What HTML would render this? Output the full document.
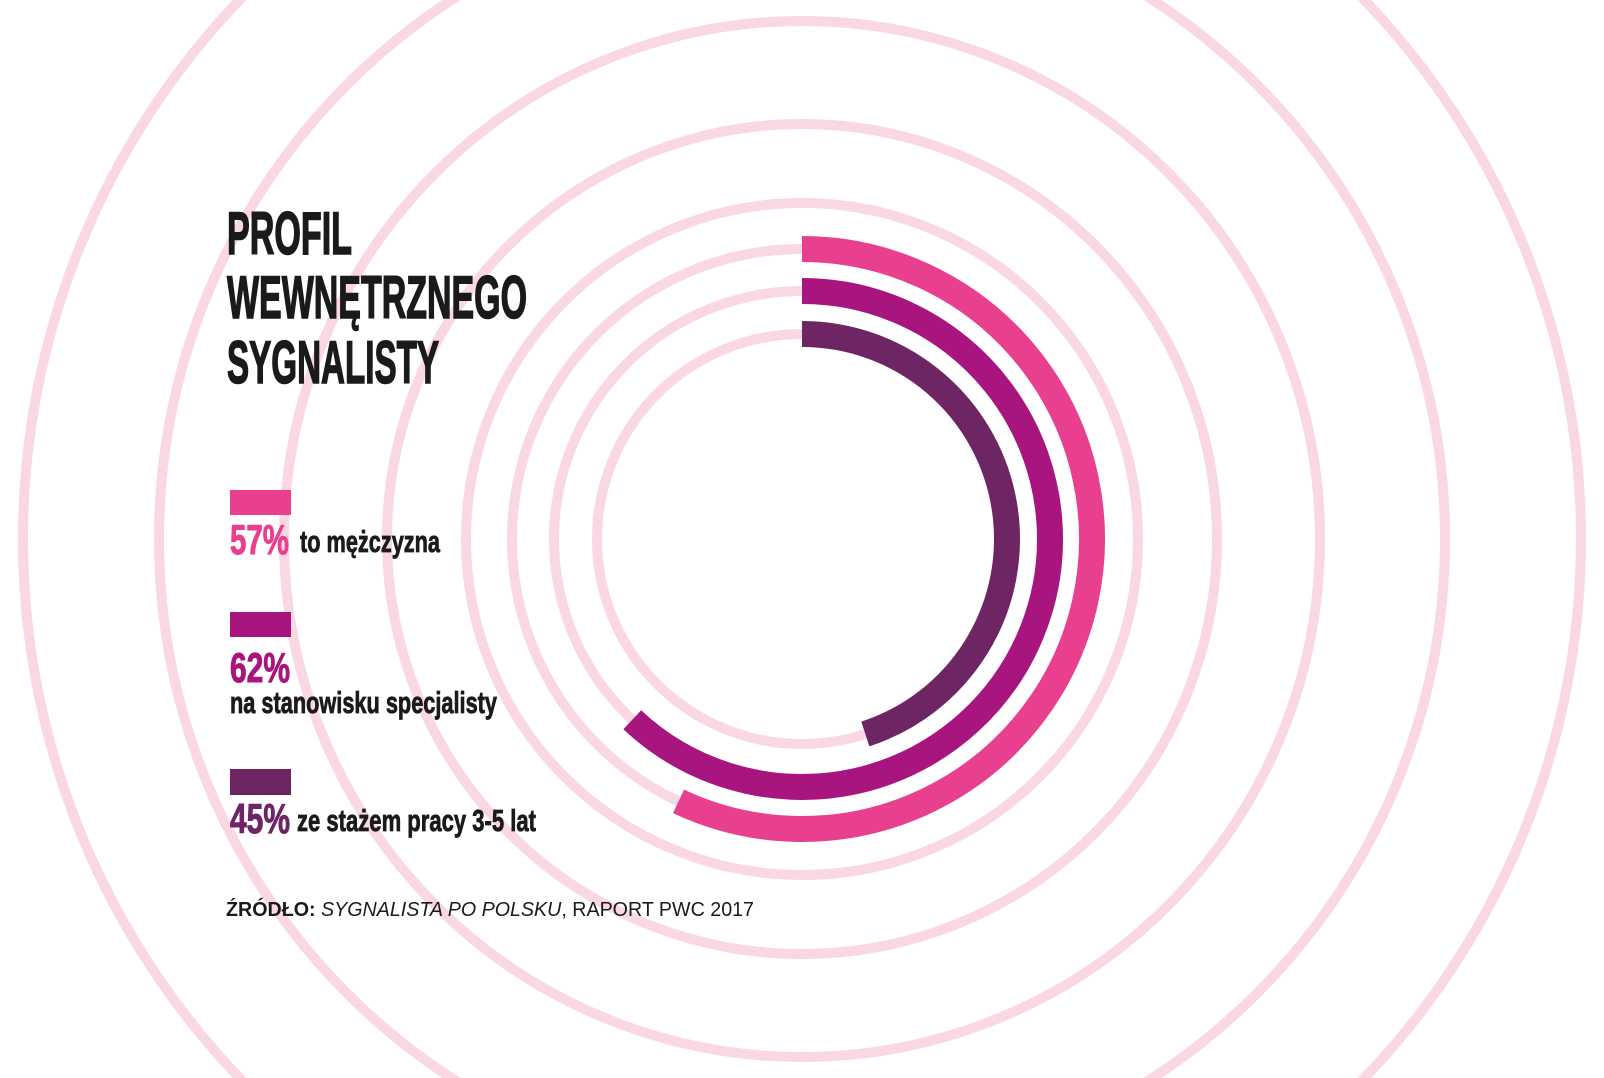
<!DOCTYPE html>
<html><head><meta charset="utf-8"><style>
html,body{margin:0;padding:0;background:#fff;overflow:hidden;width:1604px;height:1078px;}
svg{display:block;}
.t{font-family:"Liberation Sans Narrow","Liberation Sans",sans-serif;font-weight:bold;}
</style></head><body>
<svg id="chart" width="1604" height="1078" viewBox="0 0 1604 1078" xmlns="http://www.w3.org/2000/svg">
<g id="bg"></g>
<g id="arcs"></g>
<g class="t" fill="#1a1a1a" stroke="#1a1a1a" stroke-width="1.6" font-size="60">
<text x="227" y="254" textLength="125" lengthAdjust="spacingAndGlyphs">PROFIL</text>
<text x="227" y="318" textLength="300" lengthAdjust="spacingAndGlyphs">WEWNĘTRZNEGO</text>
<text x="227" y="383" textLength="212" lengthAdjust="spacingAndGlyphs">SYGNALISTY</text>
</g>
<g class="t">
<rect x="230" y="490" width="61" height="25" fill="#e8408f"/>
<text x="230" y="554" font-size="42" fill="#e8408f" stroke="#e8408f" stroke-width="1" textLength="59" lengthAdjust="spacingAndGlyphs">57%</text>
<text x="300" y="552" font-size="31" fill="#1a1a1a" stroke="#1a1a1a" stroke-width="0.8" textLength="140" lengthAdjust="spacingAndGlyphs">to mężczyzna</text>
<rect x="230" y="612" width="61" height="25" fill="#a8157f"/>
<text x="230" y="682" font-size="42" fill="#a8157f" stroke="#a8157f" stroke-width="1" textLength="60" lengthAdjust="spacingAndGlyphs">62%</text>
<text x="230" y="713" font-size="31" fill="#1a1a1a" stroke="#1a1a1a" stroke-width="0.8" textLength="267" lengthAdjust="spacingAndGlyphs">na stanowisku specjalisty</text>
<rect x="230" y="769" width="61" height="26" fill="#6e2563"/>
<text x="230" y="833" font-size="42" fill="#6e2563" stroke="#6e2563" stroke-width="1" textLength="60" lengthAdjust="spacingAndGlyphs">45%</text>
<text x="297" y="831" font-size="31" fill="#1a1a1a" stroke="#1a1a1a" stroke-width="0.8" textLength="239" lengthAdjust="spacingAndGlyphs">ze stażem pracy 3-5 lat</text>
</g>
<text x="226" y="916" font-family="Liberation Sans, sans-serif" font-size="20" fill="#1a1a1a" textLength="528" lengthAdjust="spacingAndGlyphs"><tspan font-weight="bold">ŹRÓDŁO:</tspan> <tspan font-style="italic">SYGNALISTA PO POLSKU</tspan>, RAPORT PWC 2017</text>
</svg>
<script>
const categories = ["mężczyzna", "specjalista", "staż 3-5 lat"];
const values = [57, 62, 45];
const colors = ["#e8408f", "#a8157f", "#6e2563"];
const ringRadii = [205, 248, 290, 336, 415, 518, 643, 779];
const barRadii = [290, 248, 205];
const cx = 802, cy = 539;
const NS = "http://www.w3.org/2000/svg";
function angleScale(v){ return v / 100 * 2 * Math.PI; }
const bg = document.getElementById('bg');
ringRadii.forEach(r => {
  const c = document.createElementNS(NS, 'circle');
  c.setAttribute('cx', cx); c.setAttribute('cy', cy); c.setAttribute('r', r);
  c.setAttribute('fill', 'none'); c.setAttribute('stroke', '#f9d8e4'); c.setAttribute('stroke-width', '10');
  
  
  bg.appendChild(c);
});
const arcs = document.getElementById('arcs');
values.forEach((v, i) => {
  const r = barRadii[i], a = angleScale(v);
  const x1 = cx, y1 = cy - r;
  const x2 = cx + r * Math.sin(a), y2 = cy - r * Math.cos(a);
  const large = a > Math.PI ? 1 : 0;
  const p = document.createElementNS(NS, 'path');
  p.setAttribute('d', `M${x1},${y1} A${r},${r} 0 ${large} 1 ${x2},${y2}`);
  p.setAttribute('fill', 'none'); p.setAttribute('stroke', colors[i]); p.setAttribute('stroke-width', '26');
  
  
  arcs.appendChild(p);
});
</script>
</body></html>
